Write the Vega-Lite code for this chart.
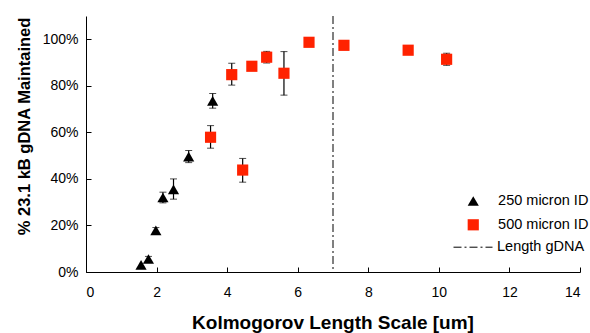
{
  "$schema": "https://vega.github.io/schema/vega-lite/v6.json",
  "width": 494,
  "height": 256,
  "autosize": "none",
  "padding": {"left": 86, "top": 16, "right": 10, "bottom": 61},
  "background": "white",
  "config": {
    "view": {"stroke": null},
    "font": "Liberation Sans",
    "axis": {
      "grid": false,
      "domainColor": "black",
      "tickColor": "black",
      "labelColor": "black",
      "titleColor": "black",
      "labelFont": "Liberation Sans",
      "titleFont": "Liberation Sans",
      "labelFontSize": 14,
      "tickSize": -5
    },
    "legend": {
      "labelFont": "Liberation Sans",
      "labelFontSize": 14.5,
      "labelColor": "black",
      "padding": 0
    }
  },
  "datasets": {
    "pts": [
      {"series": "250 micron ID", "x": 1.56, "y": 0.031, "lo": null, "hi": null},
      {"series": "250 micron ID", "x": 1.77, "y": 0.056, "lo": 0.045, "hi": 0.067},
      {"series": "250 micron ID", "x": 1.98, "y": 0.179, "lo": 0.167, "hi": 0.191},
      {"series": "250 micron ID", "x": 2.18, "y": 0.32, "lo": 0.297, "hi": 0.343},
      {"series": "250 micron ID", "x": 2.48, "y": 0.355, "lo": 0.313, "hi": 0.40},
      {"series": "250 micron ID", "x": 2.91, "y": 0.496, "lo": 0.47, "hi": 0.522},
      {"series": "250 micron ID", "x": 3.59, "y": 0.735, "lo": 0.704, "hi": 0.767},
      {"series": "500 micron ID", "x": 3.53, "y": 0.579, "lo": 0.532, "hi": 0.629},
      {"series": "500 micron ID", "x": 4.13, "y": 0.848, "lo": 0.803, "hi": 0.897},
      {"series": "500 micron ID", "x": 4.44, "y": 0.438, "lo": 0.386, "hi": 0.488},
      {"series": "500 micron ID", "x": 4.70, "y": 0.884, "lo": null, "hi": null},
      {"series": "500 micron ID", "x": 5.12, "y": 0.923, "lo": 0.898, "hi": 0.948},
      {"series": "500 micron ID", "x": 5.61, "y": 0.854, "lo": 0.76, "hi": 0.947},
      {"series": "500 micron ID", "x": 6.32, "y": 0.987, "lo": null, "hi": null},
      {"series": "500 micron ID", "x": 7.31, "y": 0.974, "lo": null, "hi": null},
      {"series": "500 micron ID", "x": 9.13, "y": 0.953, "lo": null, "hi": null},
      {"series": "500 micron ID", "x": 10.22, "y": 0.914, "lo": 0.888, "hi": 0.94}
    ],
    "ref": [{"x": 7, "label": "Length gDNA"}]
  },
  "layer": [
    {
      "data": {"name": "ref"},
      "mark": {"type": "rule", "color": "black", "strokeWidth": 1},
      "encoding": {
        "x": {"field": "x", "type": "quantitative", "scale": {"domain": [0, 14], "nice": false}, "title": "Kolmogorov Length Scale [um]"},
        "strokeDash": {
          "field": "label", "type": "nominal",
          "scale": {"range": [[8, 3, 2, 3]]},
          "legend": {
            "title": null, "orient": "none", "legendX": 367, "legendY": 211.2,
            "symbolType": "stroke", "symbolSize": 1521, "symbolStrokeColor": "black",
            "symbolStrokeWidth": 1, "labelOffset": 4
          }
        }
      }
    },
    {
      "data": {"name": "pts"},
      "transform": [{"filter": "isValid(datum.lo)"}],
      "mark": {"type": "errorbar", "ticks": {"size": 7, "color": "black", "strokeWidth": 1.2}, "rule": {"color": "black", "strokeWidth": 1.2}},
      "encoding": {
        "x": {"field": "x", "type": "quantitative", "title": "Kolmogorov Length Scale [um]"},
        "y": {"field": "lo", "type": "quantitative", "title": "% 23.1 kB gDNA Maintained"},
        "y2": {"field": "hi"}
      }
    },
    {
      "data": {"name": "pts"},
      "mark": {"type": "point", "filled": true, "opacity": 1, "size": 125},
      "encoding": {
        "x": {
          "field": "x", "type": "quantitative",
          "scale": {"domain": [0, 14], "nice": false},
          "title": "Kolmogorov Length Scale [um]",
          "axis": {
            "values": [0, 2, 4, 6, 8, 10, 12, 14],
            "titleFontSize": 19, "titleFontWeight": "bold",
            "titleX": 246.5, "titleY": 56.5, "titleBaseline": "alphabetic",
            "labelPadding": 18
          }
        },
        "y": {
          "field": "y", "type": "quantitative",
          "scale": {"domain": [0, 1.1], "nice": false},
          "title": "% 23.1 kB gDNA Maintained",
          "axis": {
            "values": [0, 0.2, 0.4, 0.6, 0.8, 1.0],
            "format": "%",
            "titleFontSize": 16.5, "titleFontWeight": "bold",
            "titleX": -57, "titleY": 110, "titleAngle": 270,
            "titleAlign": "center", "titleBaseline": "alphabetic",
            "labelPadding": 13
          }
        },
        "shape": {
          "field": "series", "type": "nominal",
          "scale": {"domain": ["250 micron ID", "500 micron ID"], "range": ["triangle-up", "square"]},
          "legend": null
        },
        "color": {
          "field": "series", "type": "nominal",
          "scale": {"domain": ["250 micron ID", "500 micron ID"], "range": ["black", "#ff2200"]},
          "legend": {
            "title": null, "orient": "none", "legendX": 380, "legendY": 177.75,
            "symbolSize": 125, "labelOffset": 17.6, "rowPadding": 8.8,
            "symbolOpacity": 1
          }
        }
      }
    }
  ]
}
